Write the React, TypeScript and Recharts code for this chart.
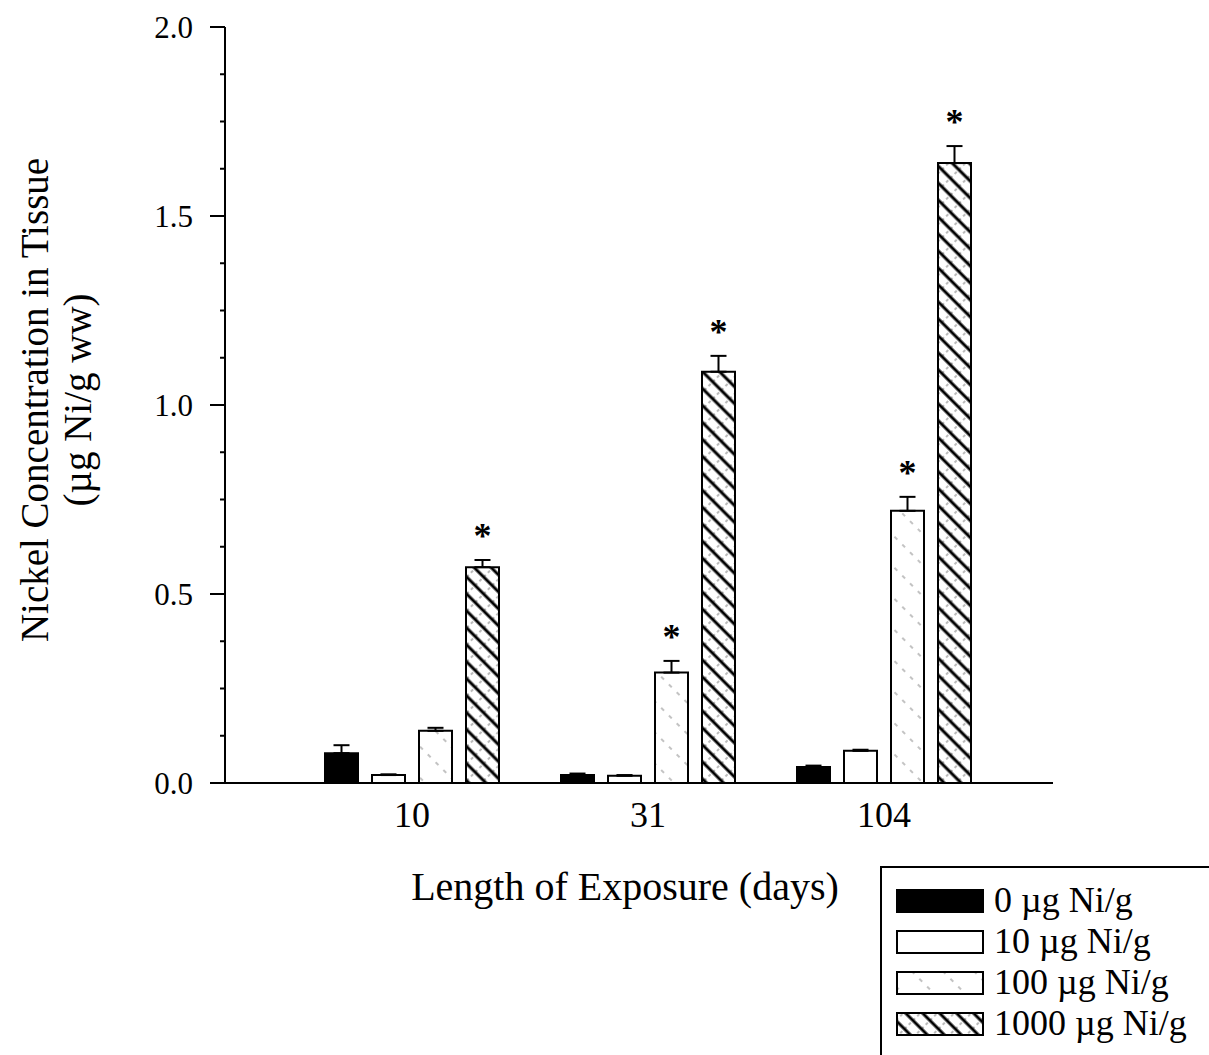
import React from "react";
import { BarChart, Bar, XAxis, YAxis, ErrorBar, LabelList, Legend } from "recharts";

const FONT = "'Liberation Serif', 'Times New Roman', serif";

// exposure length (days)
const days = ["10", "31", "104"];

// mean nickel concentration (µg Ni/g ww) per dose
const conc0 = [0.079, 0.021, 0.042];
const conc10 = [0.021, 0.019, 0.085];
const conc100 = [0.138, 0.292, 0.72];
const conc1000 = [0.571, 1.088, 1.64];

// upper error (SE)
const err0 = [0.021, 0.004, 0.004];
const err10 = [0.002, 0.002, 0.003];
const err100 = [0.008, 0.031, 0.037];
const err1000 = [0.019, 0.042, 0.045];

// significance stars
const sig100 = [false, true, true];
const sig1000 = [true, true, true];

const yTicks = [0, 0.125, 0.25, 0.375, 0.5, 0.625, 0.75, 0.875, 1, 1.125, 1.25, 1.375, 1.5, 1.625, 1.75, 1.875, 2];

const series = [
  { key: "c0", err: "e0", name: "0 µg Ni/g", fill: "#000", errs: err0, sig: null },
  { key: "c10", err: "e10", name: "10 µg Ni/g", fill: "#fff", errs: err10, sig: null },
  { key: "c100", err: "e100", name: "100 µg Ni/g", fill: "url(#pat100)", errs: err100, sig: sig100 },
  { key: "c1000", err: "e1000", name: "1000 µg Ni/g", fill: "url(#pat1000)", errs: err1000, sig: sig1000 },
];

const data = days.map((d, i) => ({
  day: d,
  c0: conc0[i],
  c10: conc10[i],
  c100: conc100[i],
  c1000: conc1000[i],
  e0: [0, err0[i]],
  e10: [0, err10[i]],
  e100: [0, err100[i]],
  e1000: [0, err1000[i]],
}));

function YTick({ x, y, payload }: any) {
  const v = payload.value;
  const major = Math.abs(v * 2 - Math.round(v * 2)) < 1e-6;
  return (
    <g>
      <line x1={x - (major ? 15 : 5)} x2={x} y1={y} y2={y} stroke="#000" strokeWidth={2} />
      {major && (
        <text x={x - 32} y={y} textAnchor="end" dominantBaseline="central" fontSize={31} fontFamily={FONT} fill="#000">
          {v.toFixed(1)}
        </text>
      )}
    </g>
  );
}

function YLabel({ viewBox }: any) {
  const cy = 400;
  return (
    <g fontFamily={FONT} fontSize={39} fill="#000">
      <text x={48} y={cy} textAnchor="middle" transform={`rotate(-90, 48, ${cy})`}>
        Nickel Concentration in Tissue
      </text>
      <text x={91} y={cy} textAnchor="middle" transform={`rotate(-90, 91, ${cy})`}>
        (µg Ni/g ww)
      </text>
    </g>
  );
}

function XLabel({ viewBox }: any) {
  return (
    <text x={625} y={900} textAnchor="middle" fontFamily={FONT} fontSize={40} fill="#000">
      Length of Exposure (days)
    </text>
  );
}

const starLabel = (errs: number[], sig: boolean[]) => (props: any) => {
  const { x, y, width, height, value, index } = props;
  if (!sig[index] || !value) return null;
  const capY = y - errs[index] * (height / value);
  return (
    <text x={x + width / 2} y={capY - 12} textAnchor="middle" fontSize={36} fontWeight="bold" fontFamily={FONT} fill="#000">
      *
    </text>
  );
};

function LegendBox({ payload }: any) {
  const items = series.map((s) => {
    const p = (payload || []).find((e: any) => e.dataKey === s.key);
    return { name: p ? p.value : s.name, fill: s.fill };
  });
  return (
    <div
      style={{
        width: 329,
        height: 189,
        borderTop: "2px solid #000",
        borderLeft: "2px solid #000",
        boxSizing: "border-box",
        paddingTop: 12,
        paddingLeft: 14,
        fontFamily: FONT,
      }}
    >
      {items.map((it) => (
        <div key={it.name} style={{ display: "flex", alignItems: "center", height: 41 }}>
          <svg width={88} height={24} style={{ display: "block" }}>
            <rect x={1} y={1} width={86} height={22} fill={it.fill} stroke="#000" strokeWidth={2} />
          </svg>
          <span style={{ marginLeft: 10, fontSize: 36, color: "#000", lineHeight: "41px", whiteSpace: "nowrap" }}>{it.name}</span>
        </div>
      ))}
    </div>
  );
}

export default function App() {
  return (
    <div style={{ position: "absolute", left: 0, top: 0, background: "#fff" }}>
      <style>{"body{margin:0;overflow:hidden;background:#fff}"}</style>
      <BarChart
        width={1209}
        height={1055}
        data={data}
        margin={{ top: 27, right: 156, bottom: 0, left: 0 }}
        barSize={33}
        barGap={14}
      >
        <defs>
          <pattern id="pat100" patternUnits="userSpaceOnUse" width={22} height={22} patternTransform="rotate(-45)">
            <rect width={22} height={22} fill="#fff" />
            <line x1={11} y1={0} x2={11} y2={22} stroke="#888" strokeWidth={1} strokeDasharray="4 7" />
          </pattern>
          <pattern id="pat1000" patternUnits="userSpaceOnUse" width={12} height={12} patternTransform="rotate(-45)">
            <rect width={12} height={12} fill="#fff" />
            <line x1={0} y1={6} x2={12} y2={6} stroke="#777" strokeWidth={1} strokeDasharray="3 3" />
            <line x1={6} y1={0} x2={6} y2={12} stroke="#000" strokeWidth={3} />
          </pattern>
        </defs>
        <XAxis
          dataKey="day"
          height={272}
          padding={{ left: 69, right: 51 }}
          tickLine={false}
          tickSize={0}
          tickMargin={18}
          axisLine={{ stroke: "#000", strokeWidth: 2 }}
          tick={{ fontSize: 36, fontFamily: FONT, fill: "#000" }}
          label={{ content: XLabel }}
        />
        <XAxis xAxisId="top" dataKey="day" orientation="top" height={0} tick={false} tickLine={false} axisLine={{ stroke: "#000", strokeWidth: 2 }} />
        <YAxis
          width={225}
          domain={[0, 2]}
          ticks={yTicks}
          interval={0}
          tickLine={false}
          tickSize={0}
          tickMargin={0}
          axisLine={{ stroke: "#000", strokeWidth: 2 }}
          tick={<YTick />}
          label={{ content: YLabel }}
        />
        <YAxis yAxisId="right" orientation="right" width={0} domain={[0, 2]} tick={false} tickLine={false} axisLine={{ stroke: "#000", strokeWidth: 2 }} />
        <Legend layout="horizontal" verticalAlign="middle" align="center" content={<LegendBox />} wrapperStyle={{ position: "absolute", left: 880, top: 866, width: 329, height: 189 }} />
        {series.map((s) => (
          <Bar key={s.key} dataKey={s.key} name={s.name} fill={s.fill} stroke="#000" strokeWidth={2} isAnimationActive={false}>
            <ErrorBar dataKey={s.err} width={8} stroke="#000" strokeWidth={2} direction="y" />
            {s.sig && <LabelList dataKey={s.key} content={starLabel(s.errs, s.sig)} />}
          </Bar>
        ))}
      </BarChart>
    </div>
  );
}
